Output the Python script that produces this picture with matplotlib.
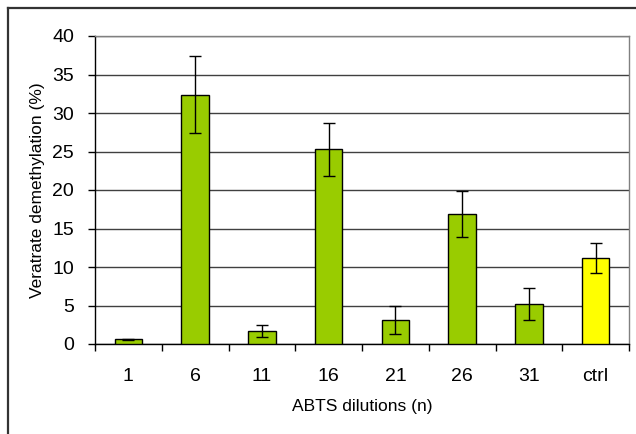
import matplotlib.pyplot as plt
from matplotlib.lines import Line2D

plt.rcParams['font.family'] = ['Liberation Sans', 'DejaVu Sans']

# data
labels = ['1', '6', '11', '16', '21', '26', '31', 'ctrl']
values = [0.6, 32.4, 1.7, 25.3, 3.1, 16.9, 5.2, 11.2]
errors = [0.05, 5.0, 0.8, 3.45, 1.8, 3.0, 2.1, 1.95]
colors = ['#99CC00'] * 7 + ['#FFFF00']

fig = plt.figure(figsize=(6.36, 4.34), dpi=100)
ax = fig.add_axes([95 / 636, 90 / 434, 534 / 636, 308 / 434])

x = list(range(len(labels)))
ax.bar(x, values, width=0.41, color=colors, edgecolor='black', linewidth=1, zorder=3)
ax.errorbar(x, values, yerr=errors, fmt='none', ecolor='black', elinewidth=1,
            capsize=4, capthick=1, zorder=4)

ax.set_xlim(-0.5, 7.5)
ax.set_ylim(0, 40)
ax.set_yticks(range(0, 41, 5))
ax.yaxis.grid(True, color='#404040', linewidth=1, zorder=0)
ax.set_axisbelow(True)

# category labels centred under bars, ticks between categories
ax.set_xticks([i - 0.5 for i in range(len(labels) + 1)], minor=False)
ax.set_xticklabels([])
ax.set_xticks(x, minor=True)
ax.set_xticklabels(labels, minor=True, fontsize=14)
ax.tick_params(axis='x', which='major', direction='out', length=5, width=1)
ax.tick_params(axis='x', which='minor', length=0, pad=17)
ax.tick_params(axis='y', direction='out', length=5, width=1, labelsize=14, pad=10)

for s in ['top', 'right']:
    ax.spines[s].set_color('#808080')
    ax.spines[s].set_linewidth(1)
for s in ['left', 'bottom']:
    ax.spines[s].set_color('black')
    ax.spines[s].set_linewidth(1)

ax.set_xlabel('ABTS dilutions (n)', fontsize=12.5)
ax.xaxis.set_label_coords(0.5, -0.18)
ax.set_ylabel('Veratrate demethylation (%)', fontsize=12.5)
ax.yaxis.set_label_coords(-0.094, 0.5)

# outer chart frame (left and top edges visible)
fx = 7.5 / 636
fy = 1 - 8 / 434
fig.add_artist(Line2D([fx, fx], [0, fy], transform=fig.transFigure, color='#333333', linewidth=1.6))
fig.add_artist(Line2D([fx, 1], [fy, fy], transform=fig.transFigure, color='#333333', linewidth=1.6))

fig.savefig('out.png', dpi=100)
